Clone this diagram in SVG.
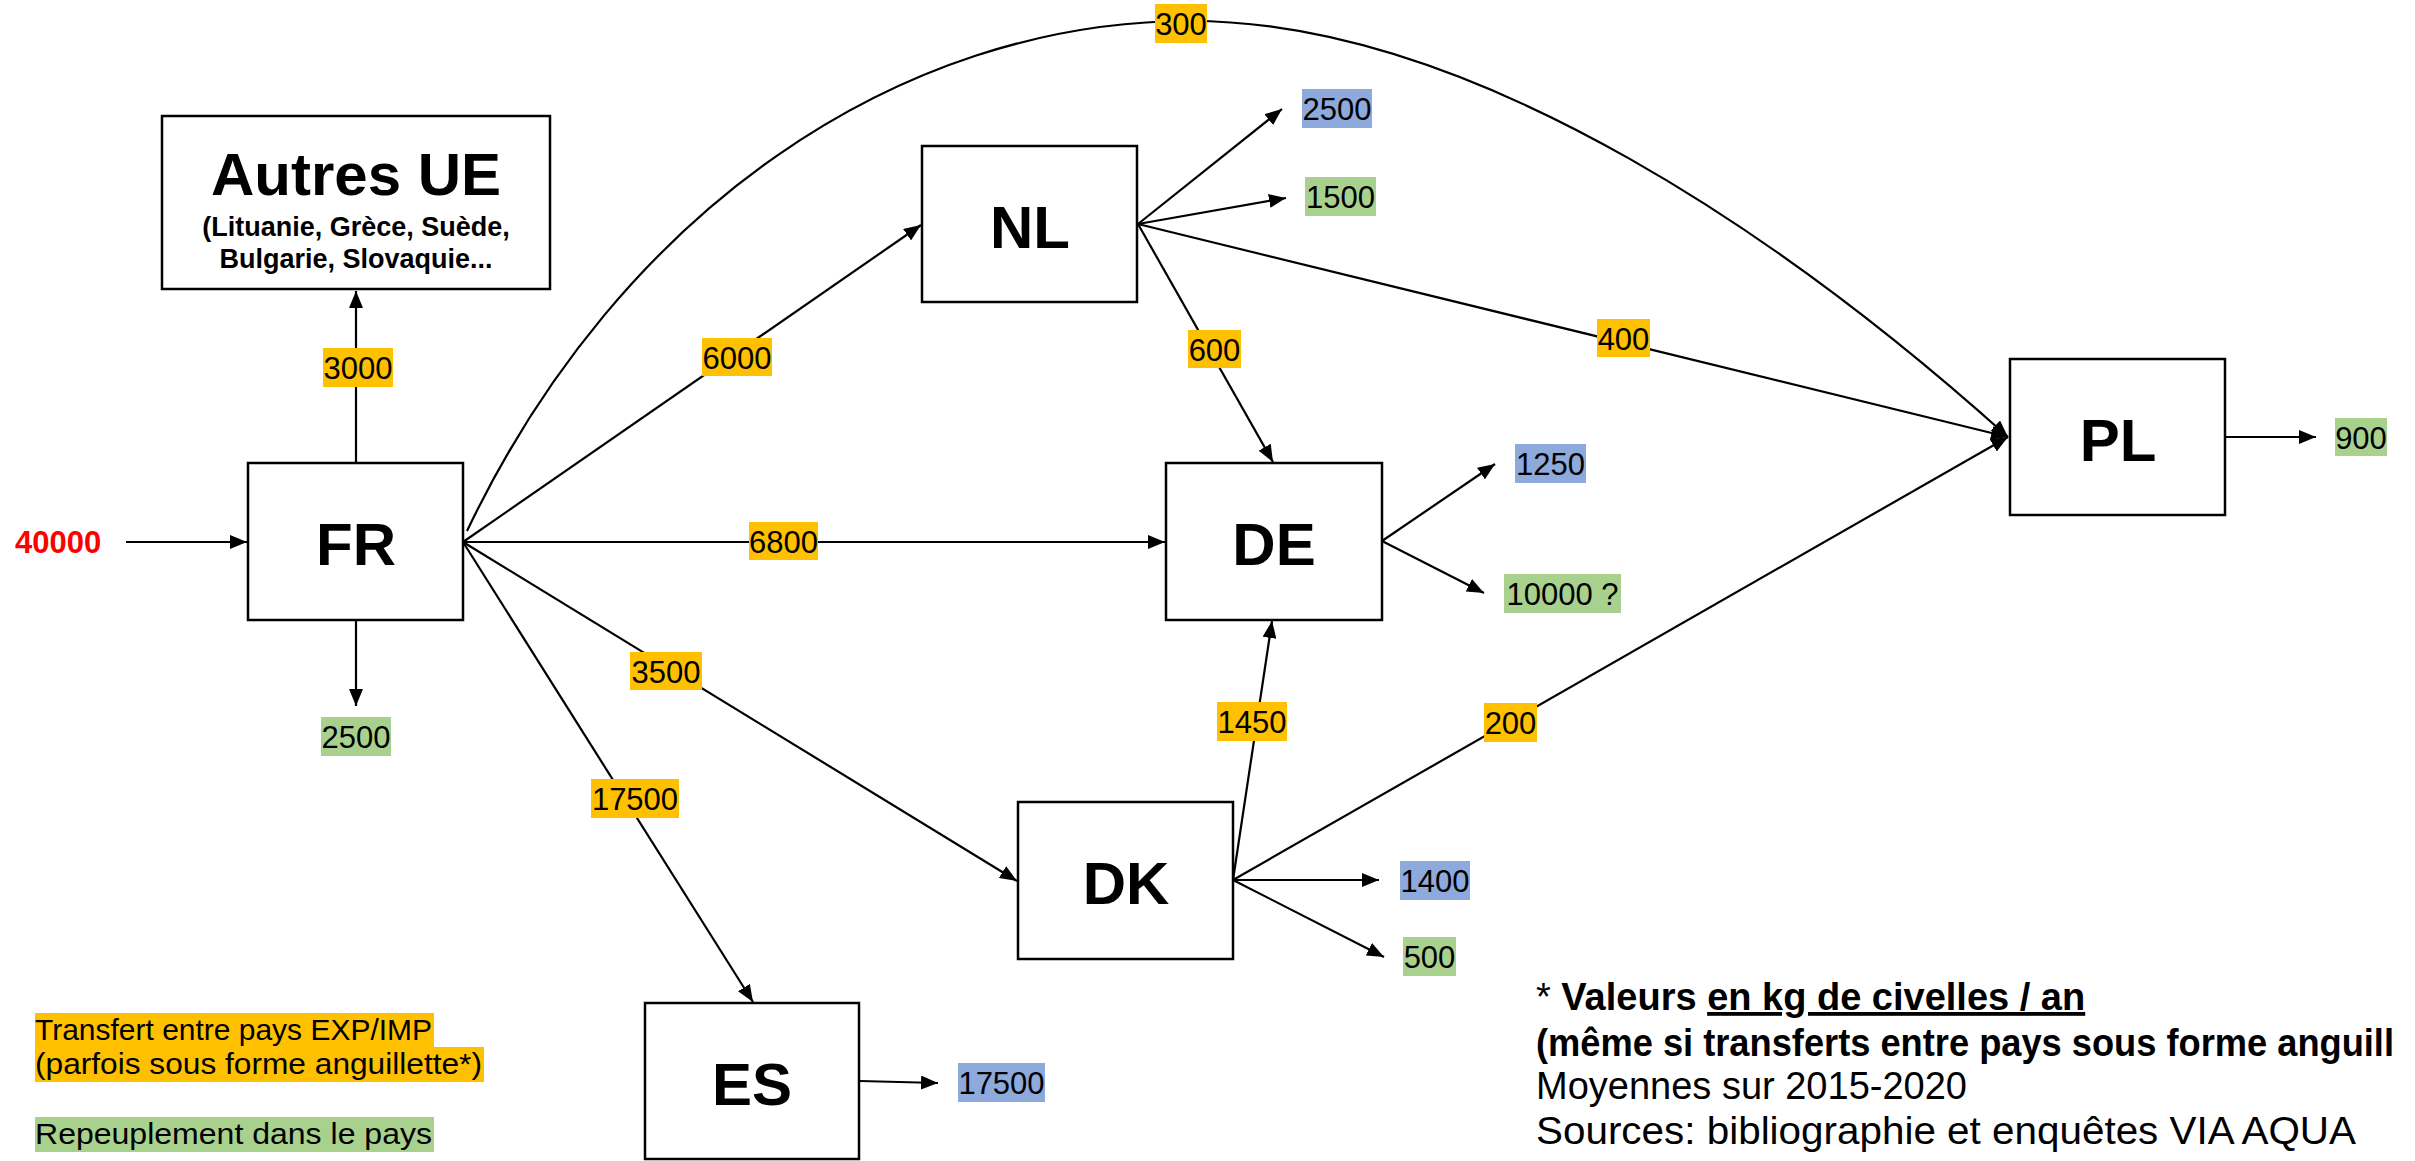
<svg xmlns="http://www.w3.org/2000/svg" width="2415" height="1161" viewBox="0 0 2415 1161">
<style>
.box{fill:#fff;stroke:#000;stroke-width:2.5}
.nt{font-family:"Liberation Sans",Arial,sans-serif;font-weight:bold;font-size:60px;text-anchor:middle;fill:#000}
.sub{font-family:"Liberation Sans",Arial,sans-serif;font-weight:bold;font-size:27px;text-anchor:middle;fill:#000}
.ln{fill:none;stroke:#000;stroke-width:2.2}
.lt{font-family:"Liberation Sans",Arial,sans-serif;font-size:31px;text-anchor:middle;fill:#000}
.or{fill:#FFC000}.bl{fill:#8EA9DB}.gr{fill:#A9D18E}
.leg{font-family:"Liberation Sans",Arial,sans-serif;font-size:29px;fill:#000}
.fn{font-family:"Liberation Sans",Arial,sans-serif;font-size:38px;fill:#000}
</style>
<defs>
<marker id="ah" markerUnits="userSpaceOnUse" markerWidth="18" markerHeight="14" refX="17" refY="7" orient="auto">
<path d="M0,0 L17,7 L0,14 z" fill="#000"/>
</marker>
</defs>
<rect width="2415" height="1161" fill="#fff"/>

<g id="connectors">
<line class="ln" x1="126" y1="542" x2="247" y2="542" marker-end="url(#ah)"/>
<line class="ln" x1="356" y1="463" x2="356" y2="291" marker-end="url(#ah)"/>
<line class="ln" x1="356" y1="620" x2="356" y2="706" marker-end="url(#ah)"/>
<line class="ln" x1="463" y1="542" x2="921" y2="225" marker-end="url(#ah)"/>
<line class="ln" x1="463" y1="542" x2="1165" y2="542" marker-end="url(#ah)"/>
<line class="ln" x1="463" y1="542" x2="1017" y2="881" marker-end="url(#ah)"/>
<line class="ln" x1="463" y1="542" x2="753" y2="1002" marker-end="url(#ah)"/>
<path class="ln" d="M467,531 C620,210 900,21 1190,21 C1480,21 1800,250 2008,437" marker-end="url(#ah)"/>
<line class="ln" x1="1138" y1="224" x2="1282" y2="109" marker-end="url(#ah)"/>
<line class="ln" x1="1138" y1="224" x2="1286" y2="198" marker-end="url(#ah)"/>
<line class="ln" x1="1138" y1="224" x2="2008" y2="437" marker-end="url(#ah)"/>
<line class="ln" x1="1138" y1="224" x2="1273" y2="462" marker-end="url(#ah)"/>
<line class="ln" x1="1382" y1="541" x2="1495" y2="464" marker-end="url(#ah)"/>
<line class="ln" x1="1382" y1="541" x2="1484" y2="593" marker-end="url(#ah)"/>
<line class="ln" x1="2225" y1="437" x2="2316" y2="437" marker-end="url(#ah)"/>
<line class="ln" x1="1233" y1="880" x2="1272" y2="621" marker-end="url(#ah)"/>
<line class="ln" x1="1233" y1="880" x2="2008" y2="437" marker-end="url(#ah)"/>
<line class="ln" x1="1233" y1="880" x2="1379" y2="880" marker-end="url(#ah)"/>
<line class="ln" x1="1233" y1="880" x2="1384" y2="957" marker-end="url(#ah)"/>
<line class="ln" x1="860" y1="1081" x2="938" y2="1083" marker-end="url(#ah)"/>
</g>

<g id="node-autres">
<rect class="box" x="162" y="116" width="388" height="173"/>
<text class="nt" x="356" y="195">Autres UE</text>
<text class="sub" x="356" y="236">(Lituanie, Grèce, Suède,</text>
<text class="sub" x="356" y="268">Bulgarie, Slovaquie...</text>
</g>
<g id="node-fr">
<rect class="box" x="248" y="463" width="215" height="157"/>
<text class="nt" x="356" y="565">FR</text>
</g>
<g id="node-nl">
<rect class="box" x="922" y="146" width="215" height="156"/>
<text class="nt" x="1030" y="248">NL</text>
</g>
<g id="node-de">
<rect class="box" x="1166" y="463" width="216" height="157"/>
<text class="nt" x="1274" y="565">DE</text>
</g>
<g id="node-pl">
<rect class="box" x="2010" y="359" width="215" height="156"/>
<text class="nt" x="2118" y="461">PL</text>
</g>
<g id="node-dk">
<rect class="box" x="1018" y="802" width="215" height="157"/>
<text class="nt" x="1126" y="904">DK</text>
</g>
<g id="node-es">
<rect class="box" x="645" y="1003" width="214" height="156"/>
<text class="nt" x="752" y="1105">ES</text>
</g>

<g id="labels">
<text x="15" y="553" font-family="Liberation Sans, Arial, sans-serif" font-weight="bold" font-size="31" fill="#FF0000">40000</text>
<rect class="or" x="323" y="348" width="70" height="39"/><text class="lt" x="358" y="379">3000</text>
<rect class="or" x="702" y="338" width="70" height="38"/><text class="lt" x="737" y="369">6000</text>
<rect class="or" x="749" y="522" width="69" height="38"/><text class="lt" x="783.5" y="553">6800</text>
<rect class="or" x="1155" y="4" width="52" height="39"/><text class="lt" x="1181" y="35">300</text>
<rect class="bl" x="1302" y="89" width="70" height="39"/><text class="lt" x="1337" y="120">2500</text>
<rect class="gr" x="1305" y="177" width="71" height="39"/><text class="lt" x="1340.5" y="208">1500</text>
<rect class="or" x="1188" y="330" width="53" height="38"/><text class="lt" x="1214.5" y="361">600</text>
<rect class="or" x="1597" y="319" width="53" height="38"/><text class="lt" x="1623.5" y="350">400</text>
<rect class="bl" x="1515" y="444" width="71" height="39"/><text class="lt" x="1550.5" y="475">1250</text>
<rect class="gr" x="1504" y="574" width="117" height="39"/><text class="lt" x="1562.5" y="605">10000 ?</text>
<rect class="gr" x="2335" y="418" width="52" height="38"/><text class="lt" x="2361" y="449">900</text>
<rect class="gr" x="321" y="717" width="70" height="39"/><text class="lt" x="356" y="748">2500</text>
<rect class="or" x="630" y="652" width="72" height="38"/><text class="lt" x="666" y="683">3500</text>
<rect class="or" x="591" y="779" width="88" height="39"/><text class="lt" x="635" y="810">17500</text>
<rect class="or" x="1217" y="702" width="70" height="39"/><text class="lt" x="1252" y="733">1450</text>
<rect class="or" x="1484" y="703" width="53" height="39"/><text class="lt" x="1510.5" y="734">200</text>
<rect class="bl" x="1400" y="861" width="70" height="39"/><text class="lt" x="1435" y="892">1400</text>
<rect class="gr" x="1403" y="937" width="53" height="39"/><text class="lt" x="1429.5" y="968">500</text>
<rect class="bl" x="958" y="1063" width="87" height="39"/><text class="lt" x="1001.5" y="1094">17500</text>
</g>

<g id="legend">
<rect class="or" x="35" y="1013" width="399" height="35"/>
<rect class="or" x="35" y="1047" width="449" height="35"/>
<text class="leg" x="35" y="1040" textLength="397" lengthAdjust="spacingAndGlyphs">Transfert entre pays EXP/IMP</text>
<text class="leg" x="35" y="1074" textLength="447" lengthAdjust="spacingAndGlyphs">(parfois sous forme anguillette*)</text>
<rect class="gr" x="35" y="1117" width="399" height="35"/>
<text class="leg" x="35" y="1144" textLength="397" lengthAdjust="spacingAndGlyphs">Repeuplement dans le pays</text>
</g>

<g id="footnote">
<text class="fn" x="1536" y="1010">* <tspan font-weight="bold">Valeurs </tspan><tspan font-weight="bold" text-decoration="underline">en kg de civelles / an</tspan></text>
<text class="fn" x="1536" y="1056" font-weight="bold" font-size="36" textLength="858" lengthAdjust="spacingAndGlyphs">(même si transferts entre pays sous forme anguill</text>
<text class="fn" x="1536" y="1099">Moyennes sur 2015-2020</text>
<text class="fn" x="1536" y="1144" textLength="820" lengthAdjust="spacingAndGlyphs">Sources: bibliographie et enquêtes VIA AQUA</text>
</g>
</svg>
